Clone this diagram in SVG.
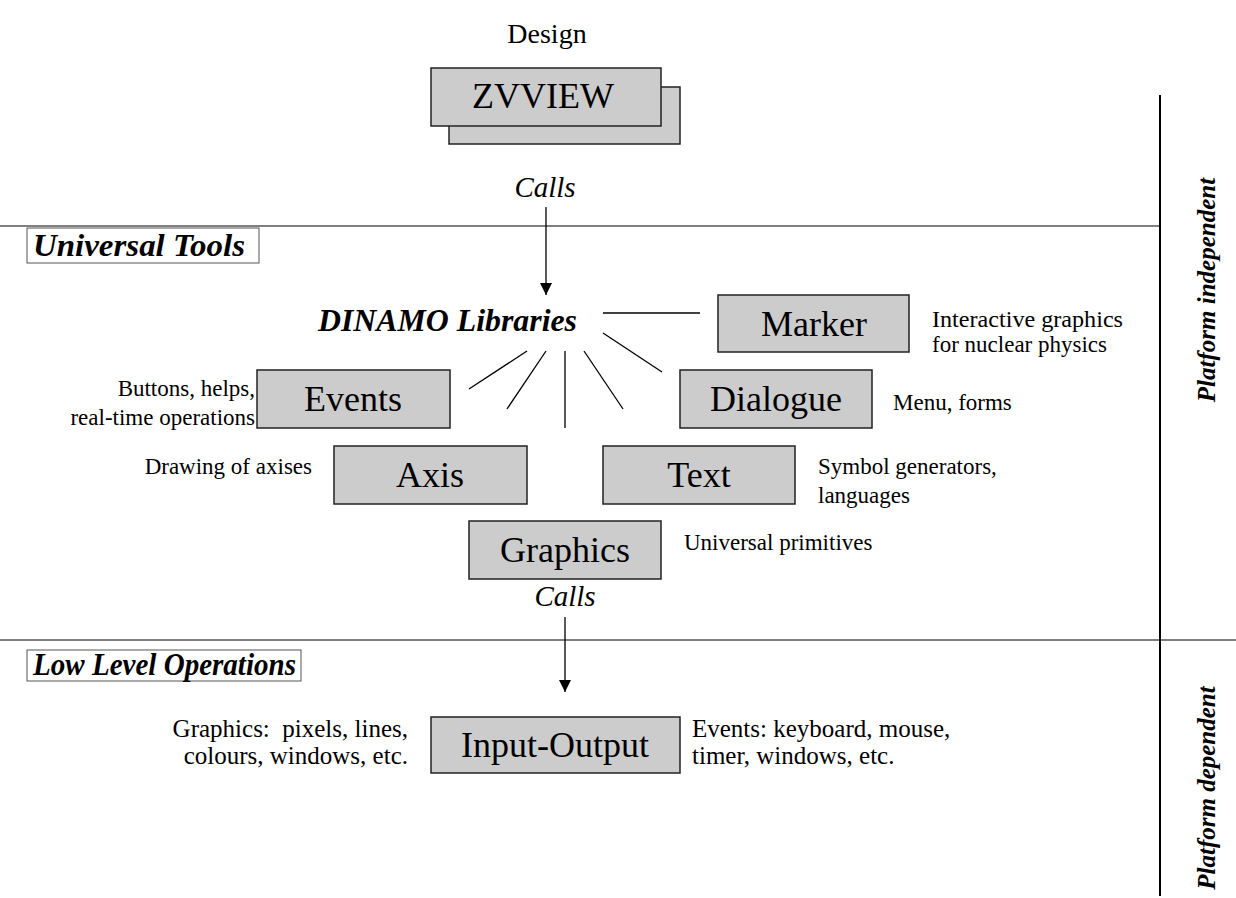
<svg xmlns="http://www.w3.org/2000/svg" width="1236" height="898" viewBox="0 0 1236 898">
<defs>
<marker id="arr" viewBox="0 0 12 12" refX="12" refY="6" markerWidth="12" markerHeight="12" markerUnits="userSpaceOnUse" orient="auto">
<path d="M0,0 L12,6 L0,12 z" fill="#000"/>
</marker>
<style>
.box{fill:#cccccc;stroke:#222;stroke-width:1.5}
.lbl{font-family:"Liberation Serif",serif;font-size:36px;fill:#000;text-anchor:middle}
.side{font-family:"Liberation Serif",serif;font-size:23px;fill:#000}
.low{font-family:"Liberation Serif",serif;font-size:25px;fill:#000}
.bi{font-family:"Liberation Serif",serif;font-size:31px;font-weight:bold;font-style:italic;fill:#000}
.it{font-family:"Liberation Serif",serif;font-size:29px;font-style:italic;fill:#000;text-anchor:middle}
.ln{stroke:#000;stroke-width:1.3;fill:none}
.plat{font-family:"Liberation Serif",serif;font-size:25px;font-weight:bold;font-style:italic;fill:#000;text-anchor:middle}
</style>
</defs>
<rect width="1236" height="898" fill="#fff"/>
<text x="547" y="43" class="lbl" style="font-size:28px">Design</text>
<g id="lines">
<line x1="0" y1="226" x2="1160" y2="226" stroke="#000" stroke-width="1"/>
<line x1="0" y1="640" x2="1236" y2="640" stroke="#000" stroke-width="1"/>
<line x1="1160" y1="95" x2="1160" y2="896" stroke="#000" stroke-width="2"/>
</g>
<text class="plat" transform="translate(1215,290) rotate(-90)">Platform independent</text>
<text class="plat" transform="translate(1215,788) rotate(-90)">Platform dependent</text>
<g id="universal-tools">
<rect x="27" y="228" width="232" height="35" fill="#fff" stroke="#555" stroke-width="1"/>
<text x="33" y="256" class="bi" textLength="212" lengthAdjust="spacingAndGlyphs">Universal Tools</text>
</g>
<g id="low-level">
<rect x="27" y="650" width="274" height="31" fill="#fff" stroke="#555" stroke-width="1"/>
<text x="33" y="675" class="bi" textLength="263" lengthAdjust="spacingAndGlyphs">Low Level Operations</text>
</g>
<g id="zvview">
<rect x="449" y="87" width="231" height="57" class="box"/>
<rect x="431" y="68" width="230" height="58" class="box"/>
<text x="543" y="108" class="lbl">ZVVIEW</text>
</g>
<text x="545" y="197" class="it">Calls</text>
<g id="dinamo">
<text x="318" y="331" class="bi" textLength="259" lengthAdjust="spacingAndGlyphs">DINAMO Libraries</text>
</g>
<g id="marker">
<rect x="718" y="295" width="191" height="57" class="box"/>
<text x="814" y="336" class="lbl">Marker</text>
<text x="932" y="327" class="side" textLength="191" lengthAdjust="spacingAndGlyphs">Interactive graphics</text>
<text x="932" y="352" class="side">for nuclear physics</text>
</g>
<g id="dialogue">
<rect x="680" y="370" width="192" height="58" class="box"/>
<text x="776" y="411" class="lbl">Dialogue</text>
<text x="893" y="410" class="side">Menu, forms</text>
</g>
<g id="events">
<rect x="257" y="370" width="193" height="58" class="box"/>
<text x="353" y="411" class="lbl">Events</text>
<text x="255" y="396" class="side" text-anchor="end">Buttons, helps,</text>
<text x="255" y="425" class="side" text-anchor="end">real-time operations</text>
</g>
<g id="axis">
<rect x="334" y="446" width="193" height="58" class="box" stroke-width="2"/>
<text x="430" y="487" class="lbl">Axis</text>
<text x="312" y="474" class="side" text-anchor="end">Drawing of axises</text>
</g>
<g id="text">
<rect x="603" y="446" width="192" height="58" class="box"/>
<text x="699" y="487" class="lbl">Text</text>
<text x="818" y="474" class="side">Symbol generators,</text>
<text x="818" y="503" class="side">languages</text>
</g>
<g id="graphics">
<rect x="469" y="521" width="192" height="58" class="box"/>
<text x="565" y="562" class="lbl">Graphics</text>
<text x="684" y="550" class="side">Universal primitives</text>
</g>
<text x="565" y="606" class="it">Calls</text>
<g id="input-output">
<rect x="431" y="717" width="249" height="56" class="box"/>
<text x="555" y="757" class="lbl">Input-Output</text>
<text x="408" y="737" class="low" text-anchor="end" xml:space="preserve">Graphics:  pixels, lines,</text>
<text x="408" y="764" class="low" text-anchor="end">colours, windows, etc.</text>
<text x="692" y="737" class="low">Events: keyboard, mouse,</text>
<text x="692" y="764" class="low">timer, windows, etc.</text>
</g>
<g id="connectors">
<line x1="546" y1="207" x2="546" y2="295" class="ln" marker-end="url(#arr)"/>
<line x1="565" y1="617" x2="565" y2="692" class="ln" marker-end="url(#arr)"/>
<line x1="603" y1="313" x2="700" y2="313" class="ln"/>
<line x1="603" y1="333" x2="662" y2="372" class="ln"/>
<line x1="584" y1="351" x2="623" y2="409" class="ln"/>
<line x1="565" y1="351" x2="565" y2="428" class="ln"/>
<line x1="546" y1="351" x2="507" y2="409" class="ln"/>
<line x1="527" y1="351" x2="469" y2="389" class="ln"/>
</g>
</svg>
